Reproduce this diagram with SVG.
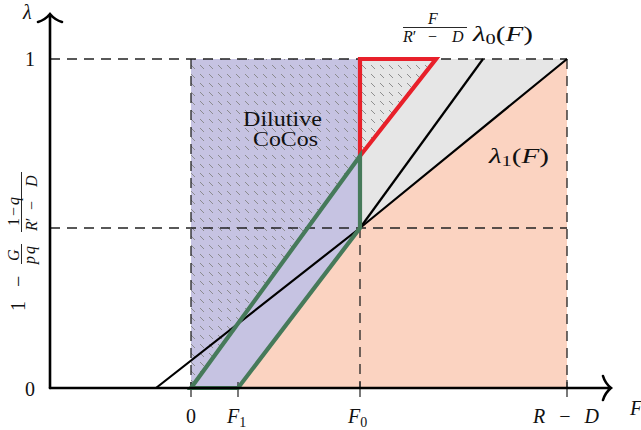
<svg xmlns="http://www.w3.org/2000/svg" width="641" height="430" viewBox="0 0 641 430">
<style>
text{font-family:"Liberation Serif","DejaVu Serif",serif;fill:#111}
.m{font-style:italic}
.lbl{font-size:20px}
.sm{font-size:16px}
.dash{fill:none;stroke:#222;stroke-width:1.3;stroke-dasharray:10 7}
.tick{stroke:#333;stroke-width:1.3}
.blk{fill:none;stroke:#000;stroke-width:2.2}
.axis{fill:none;stroke:#000;stroke-width:2.6;stroke-linecap:round}
.bar{stroke:#111;stroke-width:0.9}
</style>
<defs>
<pattern id="hatch" patternUnits="userSpaceOnUse" width="9" height="9">
<line x1="2" y1="2" x2="6" y2="6" stroke="#858585" stroke-width="0.9"/>
</pattern>
</defs>
<g id="regions">
<rect id="dilutive-area" x="191" y="59" width="169" height="329" fill="#c6c3e2"/>
<polygon id="gray-area" points="360,228 567,59 360,59" fill="#e6e6e6"/>
<polygon id="peach-area" points="238,388 360,228 567,59 567,388" fill="#fbd3c1"/>
<path id="hatch-area" d="M191,59 L360,59 L360,156 L191,388 Z M360,59 L436,59 L360,156 Z" fill="url(#hatch)"/>
</g>
<g id="connectors">
<path class="dash" d="M50,59 H567 M50,228 H567 M567,59 V388 M191,59 V388 M360,228 V388"/>
<path class="tick" d="M191,382 V397 M238,382 V397 M360,382 V397 M567,380 V397"/>
<polyline class="blk" points="156,388 360,228 567,59"/>
<line class="blk" x1="360" y1="228" x2="483" y2="59"/>
<polygon id="red-triangle" points="360,59 436,59 360,156" fill="none" stroke="#e8202a" stroke-width="4.2"/>
<polygon id="green-quad" points="191,388 238,388 360,228 360,156" fill="none" stroke="#467a5a" stroke-width="4.2" stroke-linejoin="miter"/>
<path class="axis" d="M50,388 V14 M38,22 Q45,20 50,14 Q55,20 62,22"/>
<path class="axis" d="M50,388 H611 M603,376 Q605,383 611,388 Q605,393 603,400"/>
</g>
<g id="axis-labels">
<text class="lbl m" x="23" y="19">λ</text>
<text class="lbl" x="30" y="66" text-anchor="middle">1</text>
<text class="lbl" x="30" y="396" text-anchor="middle">0</text>
<text class="lbl" x="191" y="423" text-anchor="middle">0</text>
<text class="lbl" x="227" y="423"><tspan class="m">F</tspan><tspan font-size="14" dy="4">1</tspan></text>
<text class="lbl" x="348" y="423"><tspan class="m">F</tspan><tspan font-size="14" dy="4">0</tspan></text>
<text class="lbl" x="533" y="423" textLength="66" lengthAdjust="spacing"><tspan class="m">R</tspan> − <tspan class="m">D</tspan></text>
<text class="lbl m" x="630" y="415">F</text>
<g id="y-mid-label" transform="translate(25,312) rotate(-90)">
<text class="lbl" x="1" y="0">1</text>
<text class="lbl" x="25" y="0">−</text>
<text class="sm m" x="51" y="-6">G</text>
<line class="bar" x1="48" y1="-3.5" x2="68" y2="-3.5"/>
<text class="sm m" y="9.5"><tspan x="48">p</tspan><tspan x="58">q</tspan></text>
<text class="sm" x="86" y="-6" textLength="29" lengthAdjust="spacing">1−<tspan class="m">q</tspan></text>
<line class="bar" x1="80" y1="-3.5" x2="140" y2="-3.5"/>
<text class="sm" y="12"><tspan class="m" x="81">R</tspan><tspan>′</tspan><tspan x="102">−</tspan><tspan class="m" x="125">D</tspan></text>
</g>
</g>
<g id="node-dilutive">
<text class="lbl" x="243" y="126" font-size="18" textLength="79" lengthAdjust="spacingAndGlyphs">Dilutive</text>
<text class="lbl" x="253" y="146" font-size="18" textLength="65" lengthAdjust="spacingAndGlyphs">CoCos</text>
</g>
<g id="node-lambda0">
<text class="sm m" x="428" y="24">F</text>
<line class="bar" x1="403" y1="27.5" x2="467" y2="27.5"/>
<text class="sm" y="42"><tspan class="m" x="403">R</tspan><tspan>′</tspan><tspan x="428">−</tspan><tspan class="m" x="452">D</tspan></text>
<text class="lbl" x="473" y="41" textLength="60" lengthAdjust="spacingAndGlyphs"><tspan class="m">λ</tspan><tspan font-size="14" dy="3">0</tspan><tspan dy="-3">(</tspan><tspan class="m">F</tspan>)</text>
</g>
<g id="node-lambda1">
<text class="lbl" x="489" y="163" textLength="60" lengthAdjust="spacingAndGlyphs"><tspan class="m">λ</tspan><tspan font-size="14" dy="3">1</tspan><tspan dy="-3">(</tspan><tspan class="m">F</tspan>)</text>
</g>
</svg>
